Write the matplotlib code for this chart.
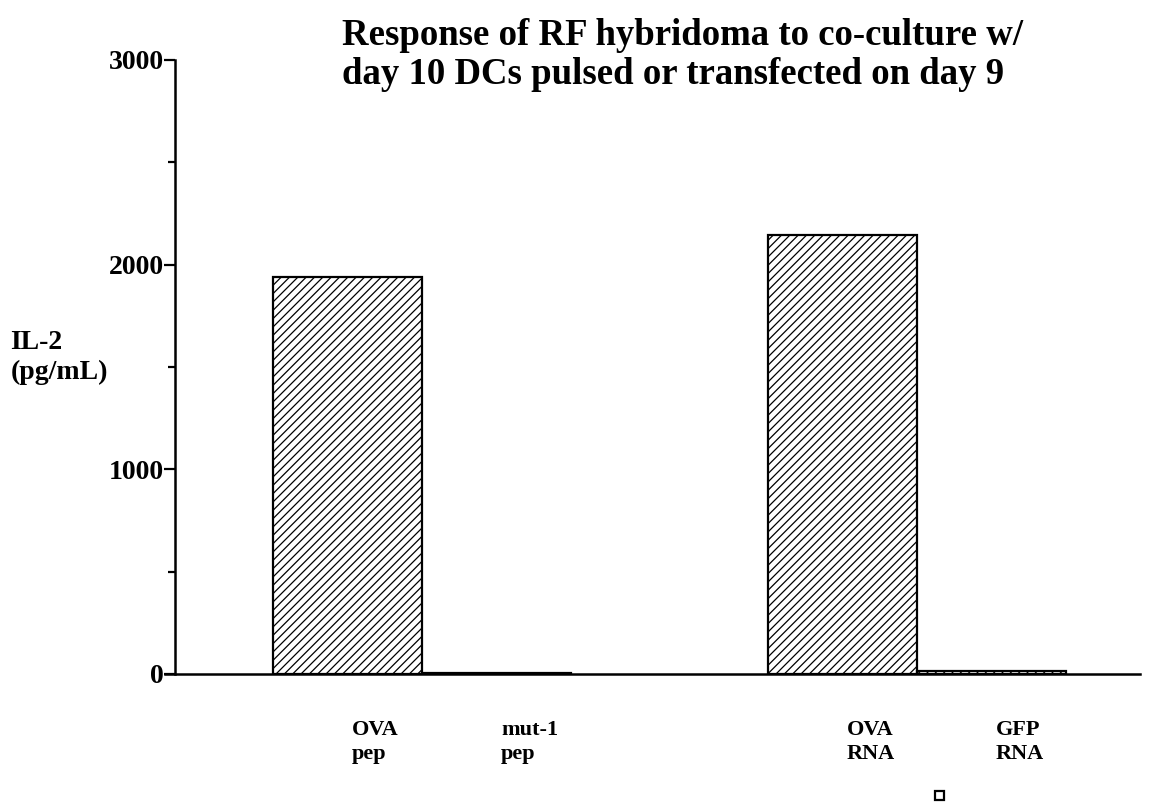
import matplotlib
matplotlib.use("Agg")
import matplotlib.pyplot as plt
from matplotlib.ticker import MultipleLocator
from matplotlib.patches import Rectangle

categories = ["OVA\npep", "mut-1\npep", "OVA\nRNA", "GFP\nRNA"]
positions = [0.0, 1.0, 3.32, 4.32]
values = [1940, 5, 2145, 15]
yticks = [0, 1000, 2000, 3000]
title = "Response of RF hybridoma to co-culture w/\nday 10 DCs pulsed or transfected on day 9"
ylabel = "IL-2\n(pg/mL)"

plt.rcParams['hatch.linewidth'] = 0.9
fig = plt.figure(figsize=(11.55, 8.06), dpi=100)
ax = fig.add_axes([0.1515, 0.1638, 0.987 - 0.1515, 0.9256 - 0.1638])

ax.bar(positions, values, width=1.0, align='center', facecolor='white',
       edgecolor='black', linewidth=1.6, hatch='////')

ax.set_xlim(-1.16, 5.32)
ax.set_ylim(0, 3000)
for s in ['top', 'right']:
    ax.spines[s].set_visible(False)
ax.spines['left'].set_linewidth(1.8)
ax.spines['bottom'].set_linewidth(1.8)
ax.spines['bottom'].set_bounds(-1.23, 5.32)

ax.set_yticks(yticks)
ax.set_yticklabels([str(v) for v in yticks], fontfamily='Liberation Serif',
                   fontweight='bold', fontsize=20)
ax.yaxis.set_minor_locator(MultipleLocator(500))
ax.tick_params(axis='y', which='major', length=8, width=1.6, pad=0, direction='out')
ax.tick_params(axis='y', which='minor', length=5, width=1.6, direction='out')

ax.set_xticks(positions)
ax.set_xticklabels([])
ax.tick_params(axis='x', length=0)
for p, lab in zip(positions, categories):
    ax.text(p + 0.03, -0.075, lab, transform=ax.get_xaxis_transform(), ha='left', va='top',
            fontfamily='Liberation Serif', fontweight='bold', fontsize=16, linespacing=1.25)

fig.text(0.296, 0.978, title, ha='left', va='top', fontfamily='Liberation Serif',
         fontweight='bold', fontsize=26.5, linespacing=1.15)
fig.text(0.009, 0.556, ylabel, ha='left', va='center', fontfamily='Liberation Serif',
         fontweight='bold', fontsize=20, linespacing=1.25)

fig.add_artist(Rectangle((0.8095, 0.0075), 0.0075, 0.011, transform=fig.transFigure,
                         facecolor='white', edgecolor='black', linewidth=1.6))

fig.savefig("out.png", dpi=100)
